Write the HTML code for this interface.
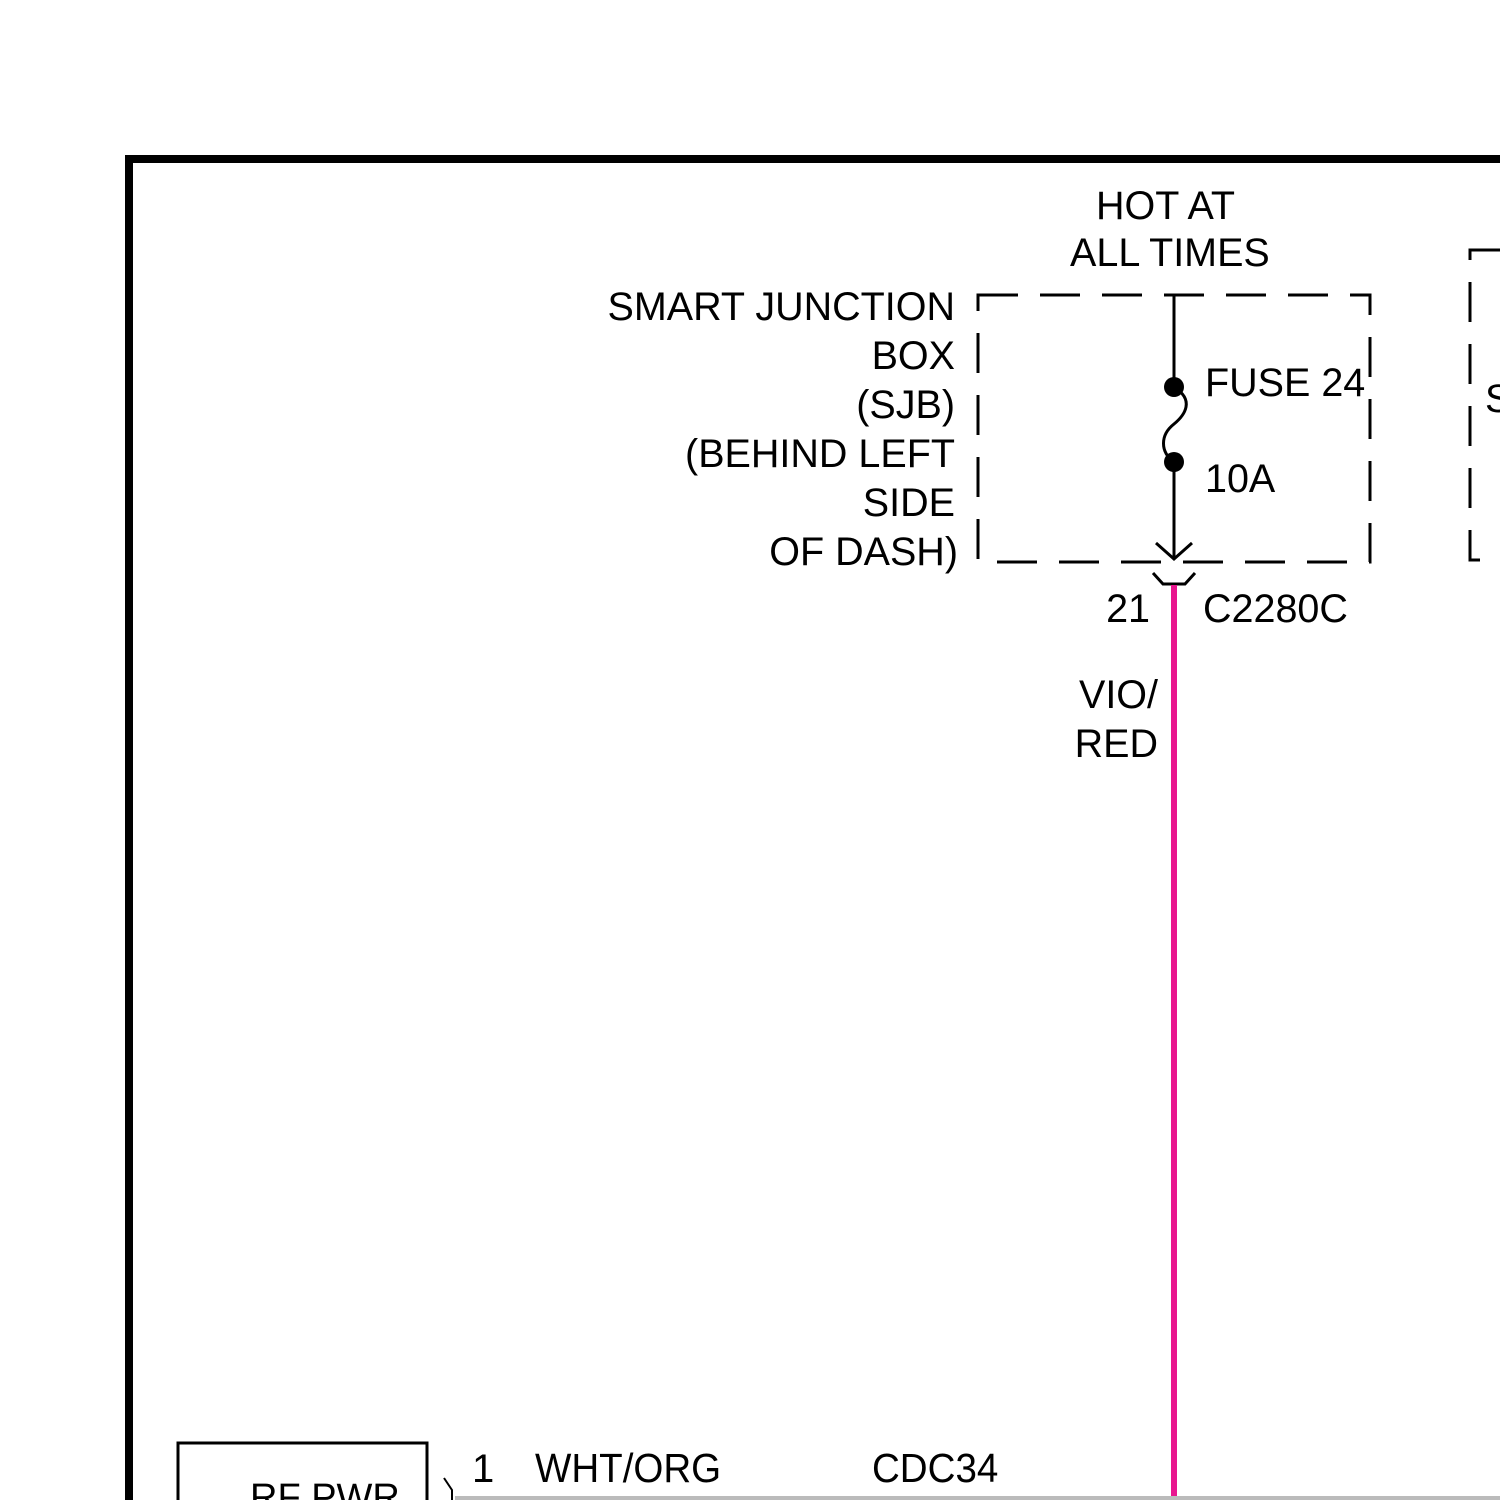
<!DOCTYPE html>
<html><head><style>html,body{margin:0;padding:0;background:#fff}svg{display:block}</style></head><body>
<svg width="1500" height="1500" viewBox="0 0 1500 1500" xmlns="http://www.w3.org/2000/svg" font-family="Liberation Sans, sans-serif" font-size="39.5" fill="#000">
<rect width="1500" height="1500" fill="#fff"/>
<path d="M129 1500 V159 H1500" fill="none" stroke="#000" stroke-width="8"/>
<rect x="978" y="295" width="392" height="267" fill="none" stroke="#000" stroke-width="3" stroke-dasharray="40,22"/>
<path d="M1500 250 H1470 V560 H1500" fill="none" stroke="#000" stroke-width="3" stroke-dasharray="40,22"/>
<text x="1485" y="412">S</text>
<line x1="1174" y1="295" x2="1174" y2="387" stroke="#000" stroke-width="3"/>
<circle cx="1174" cy="387" r="10"/>
<circle cx="1174" cy="462" r="10"/>
<path d="M1174 387 C1195 400,1185 415,1174 424 C1160 435,1160 452,1174 462" fill="none" stroke="#000" stroke-width="3"/>
<line x1="1174" y1="462" x2="1174" y2="559" stroke="#000" stroke-width="3"/>
<path d="M1156 543 L1174 559 L1192 543" fill="none" stroke="#000" stroke-width="3"/>
<path d="M1153 573 L1163 584 H1185 L1195 573" fill="none" stroke="#000" stroke-width="3"/>
<line x1="1174" y1="585" x2="1174" y2="1500" stroke="#e8168f" stroke-width="6"/>
<text x="1096" y="219">HOT AT</text>
<text x="1070" y="266">ALL TIMES</text>
<g text-anchor="end">
<text x="955" y="320">SMART JUNCTION</text>
<text x="955" y="369">BOX</text>
<text x="955" y="418">(SJB)</text>
<text x="955" y="467">(BEHIND LEFT</text>
<text x="955" y="516">SIDE</text>
<text x="958" y="565">OF DASH)</text>
<text x="1150" y="622">21</text>
<text x="1158" y="708">VIO/</text>
<text x="1158" y="757">RED</text>
</g>
<text x="1205" y="396">FUSE 24</text>
<text x="1205" y="492">10A</text>
<text x="1203" y="622">C2280C</text>
<rect x="178" y="1443" width="249" height="70" fill="none" stroke="#000" stroke-width="3"/>
<text x="250" y="1510" font-size="38">RF PWR</text>
<path d="M444 1478 L452 1490 V1500" fill="none" stroke="#000" stroke-width="2"/>
<line x1="455" y1="1498" x2="1500" y2="1498" stroke="#bbb" stroke-width="4"/>
<text x="472" y="1482" font-size="40">1</text>
<text x="535" y="1482" font-size="41" transform="translate(535 0) scale(0.94 1) translate(-535 0)">WHT/ORG</text>
<text x="872" y="1482" font-size="41" transform="translate(872 0) scale(0.94 1) translate(-872 0)">CDC34</text>
</svg>
</body></html>
